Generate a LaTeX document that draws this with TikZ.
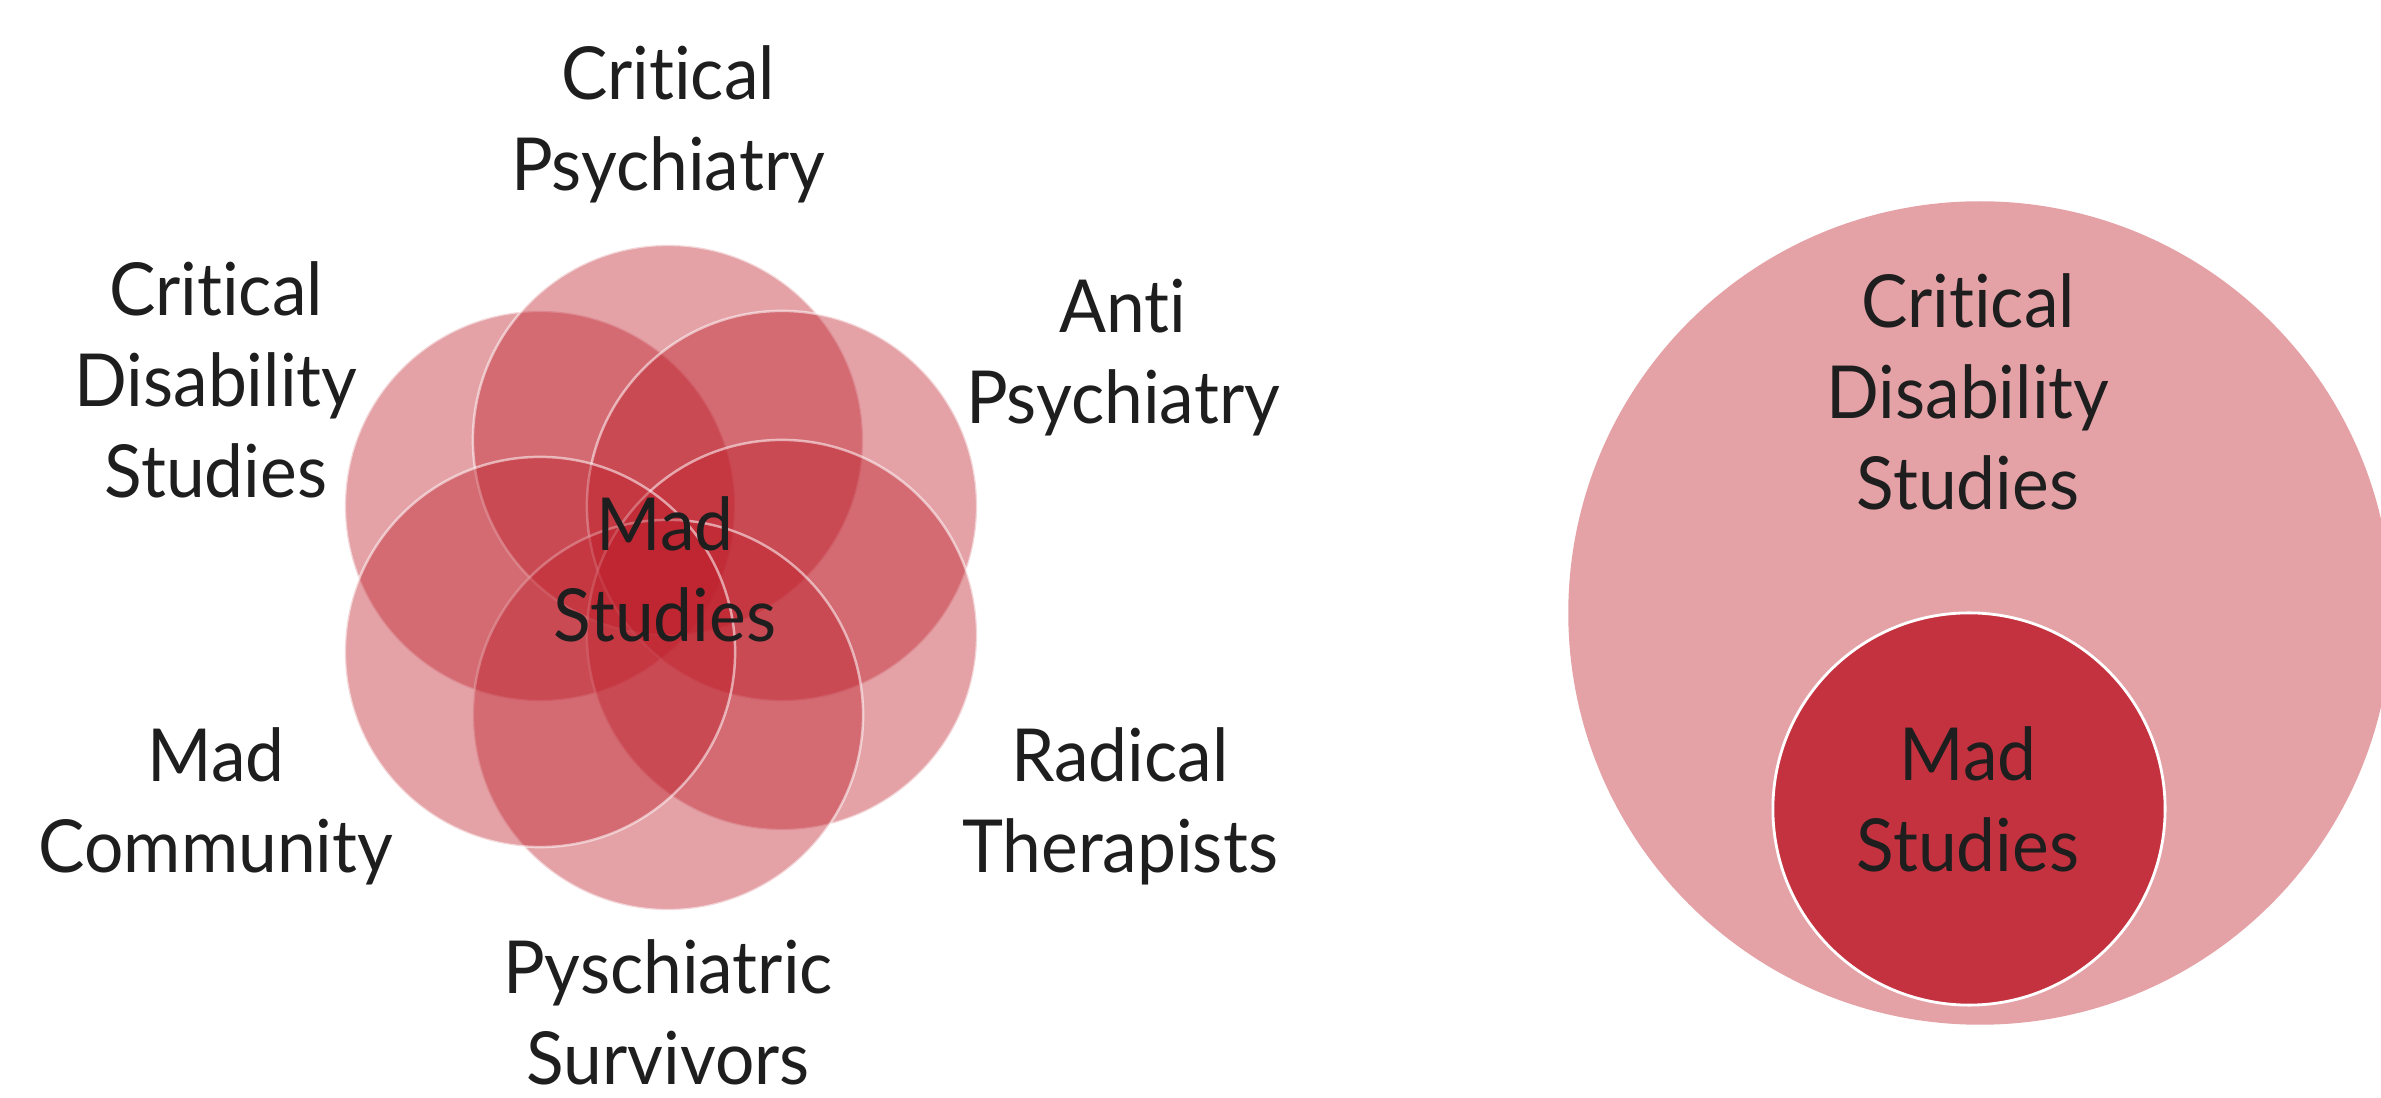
\documentclass[tikz,border=0pt]{standalone}
\usepackage{fontspec}
\setmainfont{Lato}[FakeStretch=0.95, Ligatures=NoCommon]
\usepackage{tikz}

\definecolor{madred}{RGB}{189,28,40}
\definecolor{madpink}{RGB}{228,162,167}
\definecolor{madcore}{RGB}{197,50,63}
\definecolor{labelgrey}{RGB}{30,30,30}

\begin{document}
\begin{tikzpicture}[x=0.01cm, y=-0.01cm,
    every node/.style={align=center, inner sep=0pt, text=labelgrey, font=\fontsize{20.8}{25.9}\selectfont},
    petal/.style={circle, fill=madred, fill opacity=0.41, draw=white, draw opacity=0.55, line width=0.7pt, minimum size=3.9cm}]
        \useasboundingbox (0,0) rectangle (2381,1098);

        \node[petal] (ul) at (540,506) {};
        \node[petal] (top) at (668,440) {};
        \node[petal] (ur) at (782,506) {};
        \node[petal] (lr) at (782,635) {};
        \node[petal] (bot) at (668,715) {};
        \node[petal] (ll) at (540,652) {};

        \node[anchor=base] (madstudies) at (665,642) {Mad\\Studies};
        \node[anchor=base] (critpsy) at (668,191) {Critical\\Psychiatry};
        \node[anchor=base] (antipsy) at (1123,424) {Anti\\Psychiatry};
        \node[anchor=base] (radther) at (1120,873) {Radical\\Therapists};
        \node[anchor=base] (psysurv) at (668,1085) {Pyschiatric\\Survivors};
        \node[anchor=base] (madcomm) at (216,873) {Mad\\Community};
        \node[anchor=base] (critdis) at (216,498) {Critical\\Disability\\Studies};

        \node[circle, fill=madpink, minimum size=8.23cm] (outer) at (1980,613) {};
        \node[circle, fill=madcore, draw=white, line width=0.8pt, minimum size=3.92cm] (inner) at (1969,809) {};
        \node[anchor=base] (critdisbig) at (1968,510) {Critical\\Disability\\Studies};
        \node[anchor=base] (madstudiesbig) at (1968,872) {Mad\\Studies};
    \end{tikzpicture}
\end{document}
